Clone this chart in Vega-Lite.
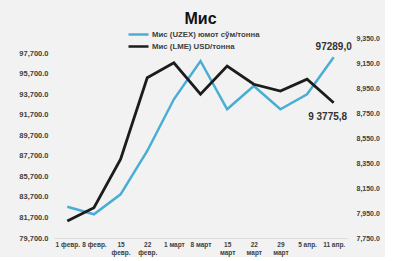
{
  "$schema": "https://vega.github.io/schema/vega-lite/v6.json",
  "width": 293,
  "height": 200,
  "padding": {"left": 18, "top": 11, "right": 5, "bottom": 1},
  "background": "#f2f2f2",
  "title": {"text": "Мис", "fontSize": 16, "font": "Liberation Sans", "fontWeight": "bold", "color": "#111111", "offset": 1, "anchor": "middle"},
  "config": {"view": {"stroke": null}, "font": "Liberation Sans"},
  "data": {"values": [
    {"date": "1 февр.", "series": "Мис (UZEX) юмот сўм/тонна", "value": 82745},
    {"date": "8 февр.", "series": "Мис (UZEX) юмот сўм/тонна", "value": 82006},
    {"date": "15|февр.", "series": "Мис (UZEX) юмот сўм/тонна", "value": 83952},
    {"date": "22|февр.", "series": "Мис (UZEX) юмот сўм/тонна", "value": 88165},
    {"date": "1 март", "series": "Мис (UZEX) юмот сўм/тонна", "value": 93196},
    {"date": "8 март", "series": "Мис (UZEX) юмот сўм/тонна", "value": 96922},
    {"date": "15|март", "series": "Мис (UZEX) юмот сўм/тонна", "value": 92222},
    {"date": "22|март", "series": "Мис (UZEX) юмот сўм/тонна", "value": 94490},
    {"date": "29|март", "series": "Мис (UZEX) юмот сўм/тонна", "value": 92222},
    {"date": "5 апр.", "series": "Мис (UZEX) юмот сўм/тонна", "value": 93682},
    {"date": "11 апр.", "series": "Мис (UZEX) юмот сўм/тонна", "value": 97289, "label": "97289,0"},
    {"date": "1 февр.", "series": "Мис (LME) USD/тонна", "value": 7886},
    {"date": "8 февр.", "series": "Мис (LME) USD/тонна", "value": 7992},
    {"date": "15|февр.", "series": "Мис (LME) USD/тонна", "value": 8380},
    {"date": "22|февр.", "series": "Мис (LME) USD/тонна", "value": 9032},
    {"date": "1 март", "series": "Мис (LME) USD/тонна", "value": 9152},
    {"date": "8 март", "series": "Мис (LME) USD/тонна", "value": 8900},
    {"date": "15|март", "series": "Мис (LME) USD/тонна", "value": 9126},
    {"date": "22|март", "series": "Мис (LME) USD/тонна", "value": 8980},
    {"date": "29|март", "series": "Мис (LME) USD/тонна", "value": 8926},
    {"date": "5 апр.", "series": "Мис (LME) USD/тонна", "value": 9020},
    {"date": "11 апр.", "series": "Мис (LME) USD/тонна", "value": 8832, "label": "9 3775,8"}
  ]},
  "encoding": {
    "x": {"field": "date", "type": "ordinal", "sort": null, "title": null,
      "scale": {"type": "point", "padding": 0.5},
      "axis": {"labelAngle": 0, "labelExpr": "split(datum.value, '|')", "labelFontSize": 6.5, "labelFontWeight": "bold", "labelColor": "#404040", "ticks": false, "domain": true, "domainColor": "#dddddd", "labelPadding": 3, "labelLineHeight": 8}}
  },
  "layer": [
    {
      "transform": [{"filter": "datum.series == 'Мис (UZEX) юмот сўм/тонна'"}],
      "encoding": {
        "y": {"field": "value", "type": "quantitative", "title": null,
          "scale": {"domain": [79700, 99160], "nice": false, "zero": false},
          "axis": {"orient": "left", "values": [79700, 81700, 83700, 85700, 87700, 89700, 91700, 93700, 95700, 97700], "format": ",.1f", "grid": false, "ticks": false, "domain": false, "labelFontSize": 7.5, "labelFontWeight": "bold", "labelColor": "#404040", "labelPadding": 6}}
      },
      "layer": [
        {"mark": {"type": "line", "strokeWidth": 2.5},
         "encoding": {"color": {"field": "series", "type": "nominal", "title": null,
           "scale": {"domain": ["Мис (UZEX) юмот сўм/тонна", "Мис (LME) USD/тонна"], "range": ["#4aaed4", "#1c1c1c"]},
           "legend": {"orient": "none", "legendX": 78, "legendY": -10, "symbolType": "M-2,0H2", "symbolStrokeWidth": 2.5, "symbolSize": 100, "labelFontSize": 7.8, "labelFontWeight": "bold", "labelColor": "#404040", "rowPadding": -1, "symbolOffset": 0, "labelOffset": 7}}}},
        {"transform": [{"filter": "isValid(datum.label)"}],
         "mark": {"type": "text", "fontSize": 10, "fontWeight": "bold", "color": "#333333", "dx": 0, "dy": -10},
         "encoding": {"text": {"field": "label"}}}
      ]
    },
    {
      "transform": [{"filter": "datum.series == 'Мис (LME) USD/тонна'"}],
      "encoding": {
        "y": {"field": "value", "type": "quantitative", "title": null,
          "scale": {"domain": [7750, 9350], "nice": false, "zero": false},
          "axis": {"orient": "right", "values": [7750, 7950, 8150, 8350, 8550, 8750, 8950, 9150, 9350], "format": ",.1f", "grid": false, "ticks": false, "domain": false, "labelFontSize": 7, "labelFontWeight": "bold", "labelColor": "#404040", "labelPadding": 9}}
      },
      "layer": [
        {"mark": {"type": "line", "strokeWidth": 2.8},
         "encoding": {"color": {"field": "series", "type": "nominal"}}},
        {"transform": [{"filter": "isValid(datum.label)"}],
         "mark": {"type": "text", "fontSize": 10, "fontWeight": "bold", "color": "#333333", "dx": -6, "dy": 14},
         "encoding": {"text": {"field": "label"}}}
      ]
    }
  ],
  "resolve": {"scale": {"y": "independent"}}
}
